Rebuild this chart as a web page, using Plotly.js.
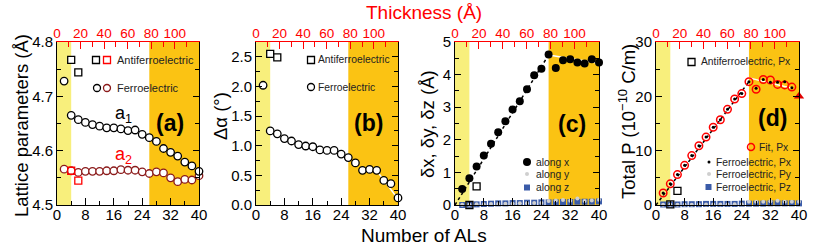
<!DOCTYPE html>
<html><head><meta charset="utf-8">
<script src="https://cdn.plot.ly/plotly-3.0.1.min.js"></script>
<style>html,body{margin:0;padding:0;background:#fff}#chart{width:814px;height:247px}</style>
</head><body><div id="chart"></div>
<script>
// ---------- data ----------
const nAL = [2,4,6,8,10,12,14,16,18,20,22,24,26,28,30,32,34,36,38,40];
const afeAL = [4,6];
// (a) lattice parameters
const a1 = [4.728,4.665,4.657,4.652,4.648,4.645,4.642,4.642,4.640,4.637,4.638,4.630,4.624,4.617,4.604,4.597,4.590,4.579,4.572,4.562];
const a2 = [4.566,4.563,4.560,4.562,4.562,4.562,4.563,4.563,4.565,4.564,4.564,4.561,4.558,4.561,4.559,4.550,4.543,4.547,4.546,4.554];
const afeA1 = [4.767,4.744];
const afeA2 = [4.563,4.545];
// (b) delta alpha
const dAlpha = [2.02,1.25,1.20,1.12,1.08,1.02,0.995,0.983,0.93,0.92,0.92,0.86,0.80,0.71,0.585,0.60,0.585,0.415,0.36,0.12];
const afeAlpha = [2.55,2.49];
const alphaFitX = [34,40];
const alphaFitY = [0.58,0.10];
// (c) displacements
const alongX = [0.49,0.82,1.18,1.52,1.88,2.23,2.57,2.93,3.18,3.55,3.98,4.18,4.62,4.20,4.44,4.47,4.37,4.34,4.47,4.37];
const alongY = [0.01,0.01,0.02,0.02,0.03,0.03,0.04,0.04,0.05,0.05,0.06,0.06,0.12,0.14,0.15,0.13,0.20,0.12,0.14,0.16];
const alongZ = [0.00,0.01,0.02,0.03,0.04,0.05,0.05,0.06,0.06,0.07,0.07,0.08,0.08,0.08,0.09,0.09,0.10,0.10,0.10,0.11];
const afeDelta = [0.00,0.57];
const dispFitX = [0,26];
const dispFitY = [0.0,4.60];
const dispFit2X = [26,40];
const dispFit2Y = [4.60,4.35];
// (d) polarization
const fitAL = [2,4,6,8,10,12,14,16,18,20,22,24,26,28,30,32,34,36,38];
const fitPx = [2.2,3.9,5.6,7.3,9.1,10.9,12.5,14.3,15.7,17.6,19.5,20.5,22.7,21.3,23.1,23.0,22.2,22.1,21.7];
const px = [2.2,3.9,5.6,7.3,9.1,10.9,12.5,14.3,15.7,17.6,19.5,20.5,22.7,21.5,23.1,22.6,22.6,22.7,21.6,20.0];
const py = [0.05,0.05,0.05,0.05,0.05,0.10,0.10,0.10,0.10,0.10,0.15,0.15,0.60,0.60,0.60,0.70,0.80,0.60,0.60,0.60];
const pz = [0.10,0.10,0.10,0.15,0.15,0.15,0.20,0.20,0.20,0.20,0.20,0.25,0.25,0.25,0.25,0.30,0.30,0.30,0.30,0.30];
const afePx = [0.1,2.6];
const endAL = [40];
const endPx = [20.0];
const pFitX = [0,26];
const pFitY = [0.0,22.7];
const pFit2X = [26,38];
const pFit2Y = [23.4,21.5];
const thicknessTicks = [0,20,40,60,80,100];
const thicknessMinor = [10,30,50,70,90,110];

// ---------- style ----------
const W = 814, H = 247;
const FONT = 'Liberation Sans, Arial, sans-serif';
const YEL = '#f8ef7c', ORA = '#fbc313', RED = '#ff0000', DRED = '#8b1a1a', BLUE = '#3a5ba8', GRAY = '#cfcfcf';
const xd = [[57,199],[256,398],[455,599],[656,799]];
const yd = [42,205];
const dom = p => [p[0]/W, p[1]/W];
const ydom = [1-yd[1]/H, 1-yd[0]/H];
const ax = i => i===0 ? '' : String(i+1);

const openC = (c, fill) => ({symbol:'circle', size:7.5, color: fill, line:{color:c, width:1.3}});
const traces = [];
function add(i, t){ t.xaxis = 'x'+ax(i); t.yaxis = 'y'+ax(i); t.showlegend=false; t.cliponaxis=false; t.hoverinfo='skip'; traces.push(t); }

// (a)
add(0,{x:nAL, y:a2, mode:'markers', marker:openC(DRED,'#fff')});
add(0,{x:nAL, y:a1, mode:'markers', marker:openC('#000','#fff')});
add(0,{x:afeAL, y:afeA1, mode:'markers', marker:{symbol:'square', size:7, color:'#fff', line:{color:'#000', width:1.3}}});
add(0,{x:afeAL, y:afeA2, mode:'markers', marker:{symbol:'square', size:7, color:'rgba(0,0,0,0)', line:{color:RED, width:1.3}}});
// (b)
add(1,{x:alphaFitX, y:alphaFitY, mode:'lines', line:{color:'#fff', width:1.5}});
add(1,{x:nAL, y:dAlpha, mode:'markers', marker:openC('#000','#fff')});
add(1,{x:afeAL, y:afeAlpha, mode:'markers', marker:{symbol:'square', size:7, color:'#fff', line:{color:'#000', width:1.3}}});
// (c)
add(2,{x:dispFitX, y:dispFitY, mode:'lines', line:{color:'#000', width:1.5, dash:'dot'}});
add(2,{x:dispFit2X, y:dispFit2Y, mode:'lines', line:{color:'#fff', width:1.5}});
add(2,{x:nAL, y:alongZ, mode:'markers', marker:{symbol:'square', size:6, color:BLUE}});
add(2,{x:nAL, y:alongY, mode:'markers', marker:{symbol:'circle', size:4, color:GRAY}});
add(2,{x:nAL, y:alongX, mode:'markers', marker:{symbol:'circle', size:8, color:'#000'}});
add(2,{x:afeAL, y:afeDelta, mode:'markers', marker:{symbol:'square', size:7, color:'rgba(0,0,0,0)', line:{color:'#000', width:1.3}}});
// (d)
add(3,{x:pFitX, y:pFitY, mode:'lines', line:{color:'#000', width:1.5, dash:'dot'}});
add(3,{x:pFit2X, y:pFit2Y, mode:'lines', line:{color:'#fff', width:1.5}});
add(3,{x:nAL, y:pz, mode:'markers', marker:{symbol:'square', size:6, color:BLUE}});
add(3,{x:nAL, y:py, mode:'markers', marker:{symbol:'circle', size:4, color:GRAY}});
add(3,{x:fitAL, y:fitPx, mode:'markers', marker:{symbol:'circle', size:7.5, color:'rgba(0,0,0,0)', line:{color:RED, width:1.5}}});
add(3,{x:nAL, y:px, mode:'markers', marker:{symbol:'circle', size:3, color:'#000'}});
add(3,{x:endAL, y:endPx, mode:'markers', marker:{symbol:'triangle-up', size:9, color:'#e00000'}});
add(3,{x:afeAL, y:afePx, mode:'markers', marker:{symbol:'square', size:7, color:'rgba(0,0,0,0)', line:{color:'#000', width:1.3}}});
// empty traces registering the top thickness axes
for (let i=0;i<4;i++) traces.push({x:[], y:[], xaxis:'x'+(i+5), yaxis:'y'+ax(i), showlegend:false, hoverinfo:'skip', type:'scatter'});

const yRanges = [[4.5,4.8],[0,2.75],[0,5],[0,30]];
const yDt = [0.1,0.5,1,10];
const yFmt = ['.1f','.1f','d','d'];

const layout = {width:W, height:H, margin:{l:0,r:0,t:0,b:0}, paper_bgcolor:'#fff', plot_bgcolor:'rgba(0,0,0,0)',
  font:{family:FONT, color:'#000'}, showlegend:false, shapes:[], annotations:[]};

for (let i=0;i<4;i++){
  layout['xaxis'+ax(i)] = {domain:dom(xd[i]), anchor:'y'+ax(i), range:[0,40], dtick:8, tick0:0, ticks:'inside', ticklen:7, tickwidth:1,
    tickcolor:'#000', showline:true, linecolor:'#000', linewidth:1, mirror:false, showgrid:false, zeroline:false, ticklabelstandoff:-4,
    tickfont:{size:15, family:FONT}, minor:{dtick:4, ticklen:4, ticks:'inside', tickcolor:'#000'}};
  layout['yaxis'+ax(i)] = {domain:ydom, anchor:'x'+ax(i), range:yRanges[i], dtick:yDt[i], tickformat:yFmt[i], ticks:'inside', ticklen:6,
    tickcolor:'#000', showline:true, linecolor:'#000', linewidth:1, mirror:'ticks', showgrid:false, zeroline:false,
    tickfont:{size:15, family:FONT}, minor:{dtick:yDt[i]/2, ticklen:4, ticks:'inside', tickcolor:'#000'}};
  layout['xaxis'+(i+5)] = {overlaying:'x'+ax(i), anchor:'y'+ax(i), side:'top', range:[0,120.5], tickmode:'array', tickvals:thicknessTicks,
    ticks:'inside', ticklen:7, tickcolor:RED, showline:true, linecolor:RED, linewidth:1, showgrid:false, zeroline:false, ticklabelstandoff:-2,
    tickfont:{size:13.5, color:RED, family:FONT}, minor:{tickmode:'array', tickvals:thicknessMinor, ticklen:5, ticks:'inside', tickcolor:RED}};
  layout.shapes.push({type:'rect', xref:'x'+ax(i), yref:'y'+ax(i)+' domain', x0:0, x1:4, y0:0, y1:1, fillcolor:YEL, line:{width:0}, layer:'below'});
  layout.shapes.push({type:'rect', xref:'x'+ax(i), yref:'y'+ax(i)+' domain', x0:26, x1:40, y0:0, y1:1, fillcolor:ORA, line:{width:0}, layer:'below'});
}

const P = (x,y) => [x/W, 1-y/H];
function ann(text, x, y, o){ const p=P(x,y); layout.annotations.push(Object.assign({text, x:p[0], y:p[1], xref:'paper', yref:'paper', showarrow:false,
  xanchor:'center', yanchor:'middle', font:{family:FONT, size:12, color:'#000'}}, o||{})); }
function sym(kind, cx, cy, s, stroke, fill, lw){
  const x0=(cx-s/2)/W, x1=(cx+s/2)/W, y0=1-(cy+s/2)/H, y1=1-(cy-s/2)/H;
  layout.shapes.push({type:kind, xref:'paper', yref:'paper', x0, x1, y0, y1, fillcolor:fill, line:{color:stroke, width:lw}, layer:'above'});
}

// titles
ann('Number of ALs', 424, 235, {font:{family:FONT, size:19}});
ann('Thickness (Å)', 424, 13, {font:{family:FONT, size:19, color:RED}});
ann('Lattice parameters (Å)', 21, 126, {textangle:-90, font:{family:FONT, size:18.5}});
ann('Δα (°)', 220, 116, {textangle:-90, font:{family:FONT, size:18.5}});
ann('δx, δy, δz (Å)', 428, 124, {textangle:-90, font:{family:FONT, size:18.5}});
ann('Total P (10<sup>−10</sup> C/m)', 627, 122, {textangle:-90, font:{family:FONT, size:18.5}});
// panel labels
ann('<b>(a)</b>', 170, 123, {font:{family:FONT, size:23}});
ann('<b>(b)</b>', 368, 123, {font:{family:FONT, size:23}});
ann('<b>(c)</b>', 572, 124, {font:{family:FONT, size:23}});
ann('<b>(d)</b>', 772, 118, {font:{family:FONT, size:23}});
ann('a<sub>1</sub>', 113, 114, {xanchor:'left', font:{family:FONT, size:18}});
ann('a<sub>2</sub>', 113, 155, {xanchor:'left', font:{family:FONT, size:18, color:RED}});

// in-plot legends
const LT = '#222';
sym('rect', 96, 60, 7, '#000', '#fff', 1.3); sym('rect', 107, 60, 7, RED, '#fff', 1.3);
ann('Antiferroelectric', 115, 60, {xanchor:'left', font:{family:FONT, size:11, color:LT}});
sym('circle', 97, 88, 7, '#000', '#fff', 1.3); sym('circle', 107, 88, 7, DRED, '#fff', 1.3);
ann('Ferroelectric', 115, 88, {xanchor:'left', font:{family:FONT, size:11, color:LT}});

sym('rect', 311, 60, 7, '#000', '#fff', 1.3);
ann('Antiferroelectric', 316, 60, {xanchor:'left', font:{family:FONT, size:10.3, color:LT}});
sym('circle', 311, 87, 7, '#000', '#fff', 1.3);
ann('Ferroelectric', 316, 87, {xanchor:'left', font:{family:FONT, size:10.3, color:LT}});

sym('circle', 527, 162, 8, '#000', '#000', 0);
ann('along x', 534, 162, {xanchor:'left', font:{family:FONT, size:10.3, color:LT}});
sym('circle', 527, 174, 4, GRAY, GRAY, 0);
ann('along y', 534, 174, {xanchor:'left', font:{family:FONT, size:10.3, color:LT}});
sym('rect', 527, 187.5, 6, BLUE, BLUE, 0);
ann('along z', 534, 187.5, {xanchor:'left', font:{family:FONT, size:10.3, color:LT}});

sym('rect', 691.5, 62, 7, '#000', '#fff', 1.3);
ann('Antiferroelectric, Px', 699, 62, {xanchor:'left', font:{family:FONT, size:10.3, color:LT}});
sym('circle', 751, 147, 7, RED, 'rgba(0,0,0,0)', 1.5);
ann('Fit, Px', 757, 147, {xanchor:'left', font:{family:FONT, size:10.3, color:LT}});
sym('circle', 709, 162, 3, '#000', '#000', 0);
ann('Ferroelectric, Px', 714, 162, {xanchor:'left', font:{family:FONT, size:10.3, color:LT}});
sym('circle', 709, 174, 4, GRAY, GRAY, 0);
ann('Ferroelectric, Py', 714, 174, {xanchor:'left', font:{family:FONT, size:10.3, color:LT}});
sym('rect', 708.5, 187, 6, BLUE, BLUE, 0);
ann('Ferroelectric, Pz', 714, 187, {xanchor:'left', font:{family:FONT, size:10.3, color:LT}});

Plotly.newPlot('chart', traces, layout, {staticPlot:true, displayModeBar:false});
</script>
</body></html>
